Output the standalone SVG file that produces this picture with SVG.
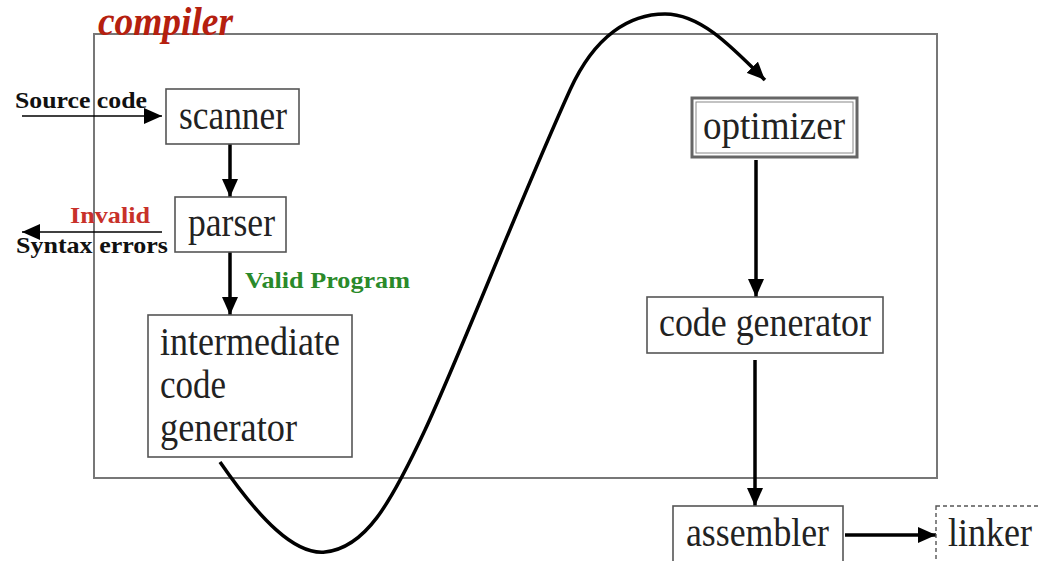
<svg xmlns="http://www.w3.org/2000/svg" width="1040" height="561" viewBox="0 0 1040 561">
<defs>
<marker id="ah" markerUnits="userSpaceOnUse" markerWidth="20" markerHeight="16" refX="18" refY="8" orient="auto">
<path d="M0,0 L18,8 L0,16 Z" fill="#000"/>
</marker>
<style>
.box{fill:#fff;stroke:#555;stroke-width:1.6}
.lbl{font-family:"Liberation Serif",serif;font-size:39px;fill:#222}
.b{font-family:"Liberation Serif",serif;font-weight:bold;font-size:23px}
.arr{stroke:#000;stroke-width:3.5;fill:none;marker-end:url(#ah)}
.thin{stroke:#000;stroke-width:1.6;fill:none;marker-end:url(#ah)}
</style>
</defs>
<rect width="1040" height="561" fill="#fff"/>
<rect id="frame" x="94" y="34" width="843" height="444" fill="none" stroke="#777" stroke-width="2"/>
<text x="98" y="35" font-family="Liberation Serif,serif" font-size="39" font-weight="bold" font-style="italic" fill="#b5200f" textLength="135" lengthAdjust="spacingAndGlyphs">compiler</text>

<g id="connectors">
<line class="thin" x1="22" y1="116" x2="162" y2="116"/>
<line class="thin" x1="162" y1="232" x2="22" y2="232"/>
<line class="arr" x1="230" y1="144" x2="230" y2="197"/>
<line class="arr" x1="230" y1="252" x2="230" y2="315"/>
<line class="arr" x1="756" y1="160" x2="756" y2="297"/>
<line class="arr" x1="755" y1="360" x2="755" y2="506"/>
<line class="arr" x1="845" y1="535" x2="936" y2="535"/>
<path class="arr" d="M220,462 C260,520 295,555 325,552 C365,548 390,505 425,430 C460,355 520,200 570,90 C595,35 630,14 665,14 C700,14 730,45 765,80"/>
</g>

<text class="b" x="15" y="108" fill="#111" textLength="132" lengthAdjust="spacingAndGlyphs">Source code</text>
<text class="b" x="70" y="223" fill="#c8312a" textLength="80" lengthAdjust="spacingAndGlyphs">Invalid</text>
<text class="b" x="16" y="253" fill="#111" textLength="152" lengthAdjust="spacingAndGlyphs">Syntax errors</text>
<text class="b" x="245" y="288" fill="#2a8a2a" textLength="165" lengthAdjust="spacingAndGlyphs">Valid Program</text>

<g id="scanner">
<rect class="box" x="166" y="89" width="133" height="55"/>
<text class="lbl" x="179" y="129" textLength="108" lengthAdjust="spacingAndGlyphs">scanner</text>
</g>
<g id="parser">
<rect class="box" x="175" y="197" width="111" height="55"/>
<text class="lbl" x="188" y="236" textLength="87" lengthAdjust="spacingAndGlyphs">parser</text>
</g>
<g id="intermediate">
<rect class="box" x="148" y="315" width="204" height="142"/>
<text class="lbl" x="160" y="355" textLength="180" lengthAdjust="spacingAndGlyphs">intermediate</text>
<text class="lbl" x="160" y="398" textLength="66" lengthAdjust="spacingAndGlyphs">code</text>
<text class="lbl" x="160" y="441" textLength="137" lengthAdjust="spacingAndGlyphs">generator</text>
</g>
<g id="optimizer">
<rect x="692" y="98" width="165" height="59" fill="#fff" stroke="#666" stroke-width="3"/>
<rect x="696" y="102" width="157" height="51" fill="none" stroke="#888" stroke-width="1"/>
<text class="lbl" x="703" y="139" textLength="142" lengthAdjust="spacingAndGlyphs">optimizer</text>
</g>
<g id="codegen">
<rect class="box" x="647" y="297" width="236" height="56"/>
<text class="lbl" x="659" y="336" textLength="212" lengthAdjust="spacingAndGlyphs">code generator</text>
</g>
<g id="assembler">
<rect class="box" x="673" y="506" width="170" height="60"/>
<text class="lbl" x="686" y="546" textLength="143" lengthAdjust="spacingAndGlyphs">assembler</text>
</g>
<g id="linker">
<rect x="936" y="506" width="110" height="60" fill="#fff" stroke="#555" stroke-width="1.4" stroke-dasharray="4,3"/>
<text class="lbl" x="948" y="546" textLength="84" lengthAdjust="spacingAndGlyphs">linker</text>
</g>
</svg>
